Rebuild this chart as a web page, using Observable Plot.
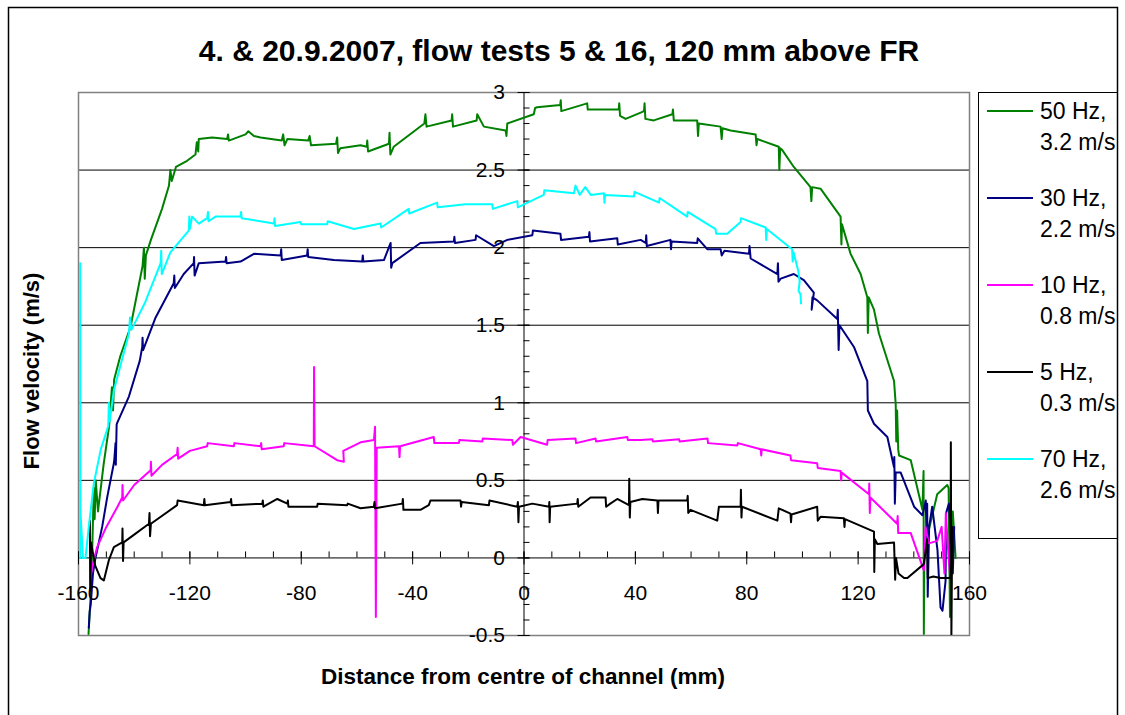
<!DOCTYPE html>
<html>
<head>
<meta charset="utf-8">
<script src="https://cdn.jsdelivr.net/npm/d3@7"></script>
<script src="https://cdn.jsdelivr.net/npm/@observablehq/plot@0.6"></script>
<style>
  html, body { margin: 0; padding: 0; background: #fff; }
  #chart { position: relative; width: 1125px; height: 715px; overflow: hidden; }
  svg { font-family: "Liberation Sans", Arial, sans-serif; }
</style>
</head>
<body>
<div id="chart"></div>
<script>
// Flow velocity profiles across the channel, [distance mm, velocity m/s]
const hz50 = [[-156.4,-0.49],[-155.5,-0.2],[-155,0.1],[-154.5,0.45],[-154.2,0.25],[-153.8,0.5],[-153,0.3],[-151,0.6],[-149,0.85],[-148,1.1],[-147.6,0.95],[-147.2,1.15],[-145,1.3],[-141.3,1.49],[-139,1.7],[-137,1.88],[-136.5,2.0],[-136.2,1.8],[-135.8,1.95],[-134,2.05],[-130,2.25],[-127.5,2.4],[-127,2.5],[-126.5,2.43],[-125,2.52],[-121,2.56],[-118,2.6],[-117.5,2.68],[-117,2.62],[-116.8,2.7],[-112,2.71],[-106.6,2.7],[-106.3,2.73],[-106,2.69],[-100,2.73],[-99,2.75],[-97,2.72],[-94.6,2.71],[-87,2.69],[-86.5,2.73],[-86,2.66],[-85,2.7],[-77.5,2.69],[-77,2.72],[-76.5,2.66],[-67.5,2.67],[-67.1,2.71],[-66.8,2.61],[-66,2.64],[-58.7,2.66],[-56.5,2.65],[-56.3,2.69],[-56,2.62],[-48.5,2.67],[-48.3,2.74],[-48,2.6],[-46.8,2.65],[-35.8,2.8],[-35.4,2.86],[-35,2.78],[-26,2.82],[-25.8,2.86],[-25.5,2.78],[-17,2.82],[-16.8,2.86],[-14.4,2.78],[-6.6,2.755],[-6.3,2.72],[-6,2.8],[3.5,2.86],[4,2.9],[4.7,2.905],[13,2.92],[13.2,2.95],[13.4,2.88],[22.7,2.93],[22.9,2.89],[34,2.89],[34.2,2.93],[34.5,2.85],[36.5,2.83],[41.9,2.87],[43.1,2.88],[43.3,2.93],[43.6,2.83],[46.6,2.82],[53.3,2.86],[53.5,2.89],[53.8,2.82],[62.2,2.82],[62.5,2.72],[62.8,2.8],[70.6,2.78],[71,2.7],[71.3,2.77],[74.2,2.755],[83.2,2.73],[83.5,2.66],[83.8,2.7],[91.5,2.65],[91.7,2.5],[92,2.64],[92.7,2.63],[96.9,2.52],[102.9,2.39],[103.2,2.3],[103.5,2.39],[106.5,2.38],[113.7,2.2],[114,2.02],[114.2,2.15],[117.3,1.96],[120.9,1.83],[123.3,1.68],[123.5,1.45],[123.8,1.68],[125.7,1.6],[127.5,1.445],[132.9,1.14],[133.5,0.99],[133.7,0.75],[134,0.95],[134.4,0.7],[134.7,0.66],[138.9,0.63],[143.1,0.31],[143.5,0.56],[143.6,-0.49],[143.8,0.05],[145,0.15],[148.4,0.41],[152,0.47],[152.5,0.45],[153,-0.38],[153.2,0.1],[154,0.3],[155,0.0]];

const hz30 = [[-156.3,-0.45],[-156,-0.35],[-155.6,-0.3],[-154.8,-0.1],[-153.9,0.0],[-151.5,0.2],[-149.7,0.39],[-147.2,0.62],[-146.7,0.74],[-146.6,0.6],[-146.3,0.86],[-146.1,0.87],[-141.9,1.04],[-138,1.27],[-137.1,1.36],[-137.0,1.42],[-136.8,1.34],[-132.3,1.55],[-125.8,1.77],[-125.6,1.82],[-125.4,1.74],[-122.2,1.83],[-118.6,1.9],[-118.5,1.94],[-118.3,1.82],[-116.8,1.9],[-107.2,1.91],[-107,1.94],[-106.8,1.9],[-101.8,1.91],[-97,1.96],[-87.4,1.95],[-87.2,1.99],[-87,1.92],[-77.9,1.95],[-77.7,1.99],[-77.5,1.94],[-68.3,1.92],[-58.1,1.91],[-57.9,1.95],[-57.7,1.91],[-50.3,1.92],[-47.9,2.03],[-47.7,1.87],[-47.3,1.9],[-37.2,2.03],[-25.2,2.04],[-25,2.07],[-24.8,2.03],[-17.4,2.05],[-17.2,2.08],[-10.8,2.01],[-6,2.05],[3,2.08],[3.2,2.11],[13.1,2.09],[13.3,2.05],[23.3,2.07],[23.5,2.1],[23.7,2.04],[33.5,2.06],[33.7,2.02],[41.9,2.05],[43.7,2.03],[43.9,2.08],[44.1,2.01],[52.6,2.05],[52.8,1.99],[53,2.04],[62.2,2.03],[62.4,2.06],[65.8,1.99],[70.6,1.99],[71,1.95],[72,1.98],[80.8,1.96],[81,2.01],[81.4,1.93],[91,1.83],[91.2,1.9],[91.4,1.78],[92.2,1.8],[96.9,1.83],[100.5,1.79],[104.1,1.71],[103.3,1.6],[103.6,1.68],[105.3,1.66],[112.5,1.54],[112.7,1.6],[113,1.34],[113.3,1.5],[118.5,1.36],[123.3,1.14],[123.5,0.95],[125.7,0.865],[130.5,0.78],[132.9,0.585],[133,0.65],[133.2,0.35],[133.5,0.55],[135.3,0.55],[140.1,0.33],[143.1,0.275],[144.3,0.37],[144.6,0.1],[144.8,0.35],[145,-0.25],[145.5,0.2],[146.6,0.33],[148.5,0.05],[149.6,-0.32],[150.3,-0.34],[151.4,-0.15],[151.6,0.29],[152.6,0.35],[153.5,0.1],[154,-0.1],[154.5,0.2]];

const hz10 = [[-155.7,-0.13],[-155,-0.05],[-153.3,0.07],[-150,0.2],[-146,0.33],[-144.3,0.39],[-144.2,0.47],[-144,0.37],[-140,0.47],[-134.1,0.565],[-134,0.62],[-133.8,0.53],[-130,0.6],[-124.6,0.67],[-124.4,0.71],[-124.2,0.64],[-120,0.69],[-113.8,0.72],[-113.6,0.74],[-104.2,0.72],[-104,0.74],[-94.6,0.72],[-94.4,0.74],[-94.2,0.7],[-86.3,0.72],[-86.1,0.74],[-75.5,0.72],[-75.4,1.23],[-75.2,0.72],[-67.1,0.63],[-64.7,0.62],[-64.9,0.69],[-58.7,0.745],[-53.9,0.76],[-53.5,0.845],[-53.2,-0.38],[-52.9,0.71],[-44.9,0.72],[-44.7,0.65],[-44.5,0.72],[-32.4,0.78],[-32.2,0.74],[-23.4,0.74],[-23.2,0.76],[-15,0.75],[-14.8,0.77],[-4.2,0.76],[-4,0.73],[-1.2,0.78],[8.3,0.73],[8.5,0.76],[18.5,0.77],[18.7,0.74],[25.7,0.77],[25.9,0.75],[37.1,0.78],[37.3,0.76],[41.9,0.76],[46.1,0.765],[46.3,0.75],[55.7,0.765],[55.9,0.75],[65.9,0.77],[66.1,0.74],[76.6,0.725],[76.8,0.74],[85,0.7],[85.2,0.66],[85.4,0.7],[95.7,0.66],[95.9,0.63],[105.3,0.61],[105.5,0.58],[113.7,0.56],[113.9,0.5],[114.1,0.55],[123.9,0.41],[124,0.48],[124.2,0.29],[124.4,0.39],[134,0.22],[134.2,0.27],[134.4,0.16],[138.9,0.16],[143.6,-0.08],[144.2,0.2],[145.4,0.094],[148.4,0.11],[150,0.2],[151,-0.1],[151.5,0.29],[152.5,0.0],[153,-0.1]];

const hz5 = [[-155.9,0.24],[-155.8,-0.21],[-155.5,0.1],[-154,-0.05],[-152.1,-0.13],[-150.9,-0.145],[-149.1,-0.015],[-147.3,0.07],[-144.3,0.1],[-144.2,0.19],[-144,-0.02],[-143.8,0.1],[-140,0.15],[-134.7,0.22],[-134.5,0.29],[-134.3,0.14],[-134,0.22],[-124.6,0.34],[-124.4,0.37],[-115,0.34],[-114.8,0.38],[-114.6,0.34],[-105.4,0.36],[-105.2,0.38],[-105,0.34],[-94,0.35],[-93.8,0.37],[-93.6,0.33],[-88.6,0.38],[-85,0.35],[-84.8,0.37],[-84.6,0.33],[-74.3,0.33],[-74.1,0.35],[-63.5,0.34],[-63.3,0.35],[-58.7,0.32],[-53.9,0.33],[-53.7,0.36],[-53.5,0.32],[-43.7,0.35],[-43.5,0.38],[-43.3,0.31],[-37.2,0.31],[-34.2,0.34],[-33.6,0.37],[-22.8,0.37],[-22.6,0.33],[-22.4,0.36],[-12.6,0.34],[-12.4,0.37],[-2.4,0.33],[-2.2,0.36],[-2,0.23],[-1.8,0.33],[3,0.35],[9,0.33],[9.1,0.36],[9.2,0.23],[9.4,0.33],[19.1,0.35],[19.3,0.38],[19.5,0.33],[23.9,0.39],[29.3,0.39],[29.5,0.33],[31,0.35],[33.5,0.38],[37.7,0.34],[37.8,0.51],[38,0.26],[38.2,0.36],[42.5,0.38],[47.9,0.37],[48.1,0.29],[48.3,0.37],[58.6,0.37],[58.8,0.4],[59,0.29],[59.8,0.31],[69.4,0.24],[70,0.33],[77.8,0.33],[77.9,0.44],[78.1,0.26],[78.3,0.33],[91,0.24],[91.5,0.32],[95.7,0.285],[95.9,0.23],[96.1,0.28],[105.3,0.33],[105.5,0.24],[106.5,0.265],[114.9,0.255],[115.1,0.2],[115.3,0.25],[125.7,0.17],[125.8,-0.09],[126,0.12],[126.9,0.09],[132.9,0.1],[133.3,-0.14],[133.6,0.0],[134.5,-0.1],[136.5,-0.13],[137.7,-0.13],[143.6,-0.04],[144.8,0.12],[145,-0.13],[147,-0.12],[149.6,-0.13],[153.2,-0.13],[153.3,0.745],[153.5,-0.5],[153.8,0.2]];

const hz70 = [[-159.4,0],[-159.4,1.9],[-159.3,0.3],[-158.4,0.0],[-157.5,0.0],[-156.3,0.2],[-154.5,0.48],[-152,0.7],[-149.3,0.85],[-149.1,1.0],[-148.8,0.88],[-147.3,1.08],[-141.9,1.445],[-141.5,1.55],[-141,1.47],[-136,1.65],[-130.5,1.9],[-130.3,1.98],[-130.1,1.83],[-127,1.97],[-120.4,2.11],[-120.2,2.2],[-120,2.12],[-119.2,2.2],[-116.8,2.155],[-113.8,2.19],[-113.5,2.23],[-113.3,2.17],[-110.8,2.2],[-101.8,2.2],[-101.6,2.23],[-101.4,2.19],[-89.8,2.155],[-89.6,2.19],[-89.4,2.14],[-80.3,2.165],[-80,2.15],[-70.7,2.15],[-70.5,2.17],[-61.1,2.12],[-51.5,2.155],[-51.3,2.13],[-41.4,2.25],[-41.2,2.22],[-31.2,2.29],[-31,2.26],[-21,2.28],[-11.4,2.28],[-11.2,2.25],[-2.4,2.3],[-2.2,2.26],[7.1,2.34],[7.3,2.37],[17.9,2.35],[18.5,2.4],[20,2.34],[22,2.39],[24,2.34],[28.7,2.35],[28.9,2.29],[29.1,2.34],[39.5,2.33],[39.7,2.36],[48.5,2.29],[48.7,2.32],[58.6,2.2],[58.8,2.23],[68.8,2.12],[69,2.09],[73,2.09],[77.8,2.165],[77.9,2.19],[86.8,2.13],[87,2.05],[87.2,2.12],[96.3,1.99],[96.5,1.91],[96.8,1.97],[98.5,1.85],[99,1.78],[98.6,1.72],[99.3,1.7],[99.5,1.64]];

// Legend entries, in drawing order
const seriesData = [hz50, hz30, hz10, hz5, hz70];
const seriesFreq = ["50 Hz,", "30 Hz,", "10 Hz,", "5 Hz,", "70 Hz,"];
const seriesSpeed = ["3.2 m/s", "2.2 m/s", "0.8 m/s", "0.3 m/s", "2.6 m/s"];
const seriesColor = ["#008000", "#000080", "#ff00ff", "#000000", "#00ffff"];

// Axes
const xTicks = [-160, -120, -80, -40, 0, 40, 80, 120, 160];
const yTicks = [-0.5, 0, 0.5, 1, 1.5, 2, 2.5, 3];
const xMinor = d3.range(-160, 161, 10);
const yMinor = d3.range(-5, 31).map(d => d / 10);
const gridValues = [0.5, 1, 1.5, 2, 2.5];

const titleText = "4. & 20.9.2007, flow tests 5 & 16, 120 mm above FR";
const xTitle = "Distance from centre of channel (mm)";
const yTitle = "Flow velocity (m/s)";

const font = "'Liberation Sans', Arial, sans-serif";

const lineMarks = seriesData.map((data, i) =>
  Plot.line(data, {x: d => d[0], y: d => d[1], stroke: seriesColor[i], strokeWidth: 2, clip: true, strokeLinejoin: "round"})
);

const chart = Plot.plot({
  width: 1125,
  height: 715,
  marginLeft: 78,
  marginRight: 156,
  marginTop: 92,
  marginBottom: 80,
  style: {fontFamily: font, background: "transparent", overflow: "visible"},
  x: {domain: [-160, 160], axis: null},
  y: {domain: [-0.5, 3], axis: null},
  marks: [
    Plot.ruleY(gridValues, {stroke: "#000", strokeWidth: 1}),
    Plot.frame({stroke: "#808080", strokeWidth: 1.5}),
    // x axis through y = 0
    Plot.ruleY([0], {stroke: "#000", strokeWidth: 1}),
    Plot.ruleX(xMinor, {x: d => d, y1: 0, y2: 0, insetTop: -6, insetBottom: 0, stroke: "#000"}),
    Plot.ruleX(xTicks, {x: d => d, y1: 0, y2: 0, insetTop: -6, insetBottom: -7, stroke: "#000"}),
    // y axis through x = 0
    Plot.ruleX([0], {stroke: "#000", strokeWidth: 1}),
    Plot.ruleY(yMinor, {y: d => d, x1: 0, x2: 0, insetLeft: 0, insetRight: -6, stroke: "#000"}),
    Plot.ruleY(yTicks, {y: d => d, x1: 0, x2: 0, insetLeft: -6, insetRight: -6, stroke: "#000"}),
    ...lineMarks,
    Plot.text(xTicks, {x: d => d, y: 0, dy: 35, text: d => String(d), fontSize: 21, fill: "#000"}),
    Plot.text(yTicks, {x: 0, y: d => d, dx: -19, text: d => String(d), textAnchor: "end", fontSize: 21, fill: "#000"})
  ]
});

document.getElementById("chart").appendChild(chart);

// Titles, legend and outer border
const svg = d3.select(chart);

svg.append("text")
  .attr("x", 559).attr("y", 50)
  .attr("text-anchor", "middle").attr("dominant-baseline", "central")
  .attr("font-size", 30).attr("font-weight", "bold").attr("fill", "#000")
  .text(titleText);

svg.append("text")
  .attr("x", 523).attr("y", 676)
  .attr("text-anchor", "middle").attr("dominant-baseline", "central")
  .attr("font-size", 22.5).attr("font-weight", "bold").attr("fill", "#000")
  .text(xTitle);

svg.append("text")
  .attr("transform", "translate(31,371) rotate(-90)")
  .attr("text-anchor", "middle").attr("dominant-baseline", "central")
  .attr("font-size", 22).attr("font-weight", "bold").attr("fill", "#000")
  .text(yTitle);

const legend = svg.append("g").attr("text-anchor", "start");
seriesFreq.forEach((label, i) => {
  const cy = 111 + i * 87;
  legend.append("line")
    .attr("x1", 987).attr("x2", 1033).attr("y1", cy).attr("y2", cy)
    .attr("stroke", seriesColor[i]).attr("stroke-width", 2);
  legend.append("text")
    .attr("x", 1040).attr("y", cy).attr("dominant-baseline", "central")
    .attr("text-anchor", "start")
    .attr("font-size", 23).attr("fill", "#000").text(label);
  legend.append("text")
    .attr("x", 1040).attr("y", cy + 31).attr("dominant-baseline", "central")
    .attr("text-anchor", "start")
    .attr("font-size", 23).attr("fill", "#000").text(seriesSpeed[i]);
});
legend.append("rect")
  .attr("x", 978.5).attr("y", 92.5).attr("width", 139).attr("height", 446)
  .attr("fill", "none").attr("stroke", "#000").attr("stroke-width", 1);

svg.append("rect")
  .attr("x", 8.5).attr("y", 7.5).attr("width", 1109).attr("height", 720)
  .attr("fill", "none").attr("stroke", "#000").attr("stroke-width", 1.5);
</script>
</body>
</html>
